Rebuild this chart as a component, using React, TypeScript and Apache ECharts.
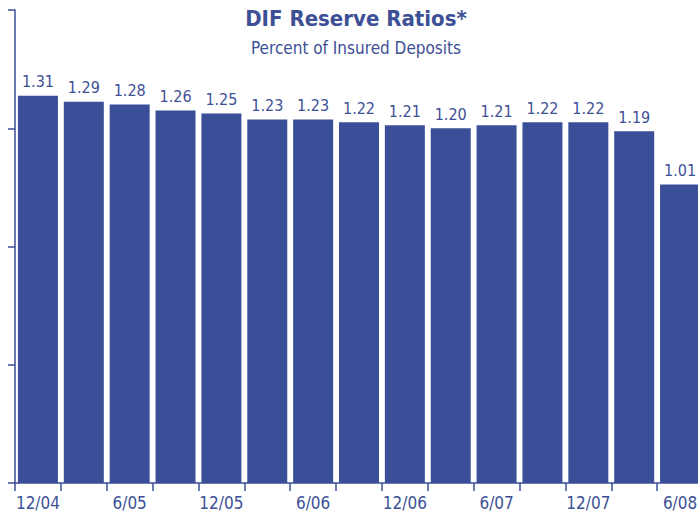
import React, { useEffect, useRef } from "react";
import * as echarts from "echarts";

const categories = ["12/04", "3/05", "6/05", "9/05", "12/05", "3/06", "6/06", "9/06", "12/06", "3/07", "6/07", "9/07", "12/07", "3/08", "6/08"];
const ratios = [1.31, 1.29, 1.28, 1.26, 1.25, 1.23, 1.23, 1.22, 1.21, 1.2, 1.21, 1.22, 1.22, 1.19, 1.01];
const titleText = "DIF Reserve Ratios*";
const subtitleText = "Percent of Insured Deposits";

const BLUE = "#3a4f98";
const TEXT = "#3d5096";
const FONT = "'DejaVu Sans Condensed', 'Liberation Sans Narrow', sans-serif";

export default function App() {
  const ref = useRef<HTMLDivElement>(null);
  useEffect(() => {
    if (!ref.current) return;
    const chart = echarts.init(ref.current, null, { renderer: "svg" });
    chart.setOption({
      animation: false,
      backgroundColor: "#ffffff",
      grid: { left: 15, right: 0, top: 10, bottom: 27, containLabel: false },
      graphic: [
        {
          type: "text",
          x: 356,
          y: 7,
          style: { text: titleText, fontFamily: FONT, fontSize: 22, fontWeight: "bold", fill: TEXT, textAlign: "center", textVerticalAlign: "top" },
        },
        {
          type: "text",
          x: 356,
          y: 39,
          style: { text: subtitleText, fontFamily: FONT, fontSize: 17, fill: TEXT, textAlign: "center", textVerticalAlign: "top" },
        },
      ],
      xAxis: {
        type: "category",
        data: categories,
        axisLine: { show: true, lineStyle: { color: BLUE, width: 1.5 } },
        axisTick: { show: true, interval: 0, length: 8, lineStyle: { color: BLUE, width: 1.5 } },
        axisLabel: { interval: 1, color: TEXT, fontFamily: FONT, fontSize: 17, margin: 11 },
      },
      yAxis: {
        type: "value",
        min: 0,
        max: 1.6,
        interval: 0.4,
        splitLine: { show: false },
        axisLine: { show: true, lineStyle: { color: BLUE, width: 1.5 } },
        axisTick: { show: true, length: 7, lineStyle: { color: BLUE, width: 1.5 } },
        axisLabel: { show: false },
      },
      series: [
        {
          type: "bar",
          data: ratios,
          barWidth: 40,
          itemStyle: { color: BLUE },
          label: {
            show: true,
            position: "top",
            distance: 6,
            formatter: (p: any) => p.value.toFixed(2),
            color: TEXT,
            fontFamily: FONT,
            fontSize: 16,
          },
        },
      ],
    });
    return () => chart.dispose();
  }, []);
  return (
    <div style={{ position: "absolute", left: 0, top: 0, width: 698, height: 511, overflow: "hidden" }}>
      <div ref={ref} style={{ width: 703, height: 511 }} />
    </div>
  );
}
